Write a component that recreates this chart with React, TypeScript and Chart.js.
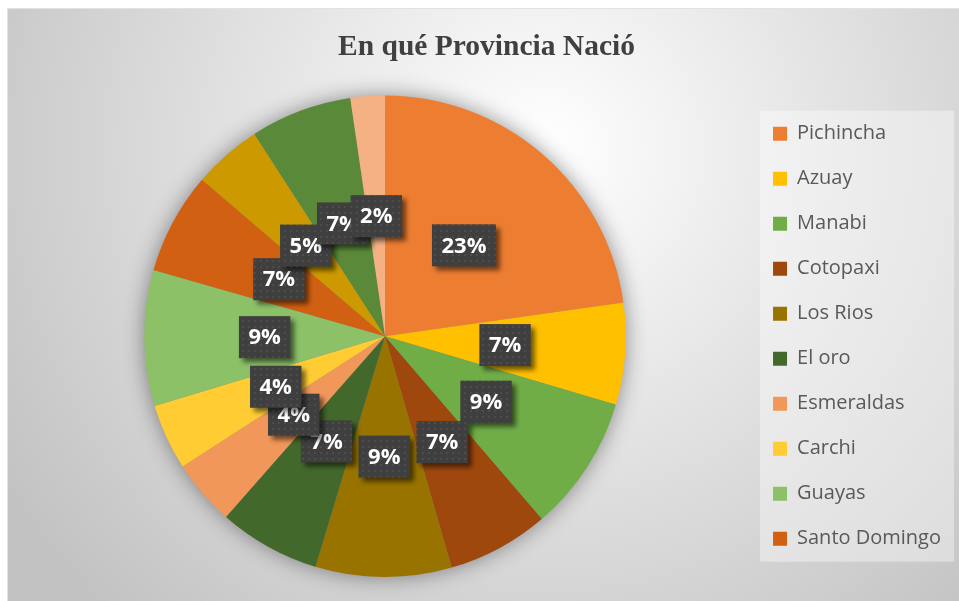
import React, { useEffect, useRef } from "react";
import { Chart, registerables } from "chart.js";

Chart.register(...registerables);

// ---- Data ----
const chartTitle = "En qué Provincia Nació";
const provinces = [
  "Pichincha",
  "Azuay",
  "Manabi",
  "Cotopaxi",
  "Los Rios",
  "El oro",
  "Esmeraldas",
  "Carchi",
  "Guayas",
  "Santo Domingo",
  "Tungurahua",
  "Loja",
  "Imbabura",
];
const shares = [22.7, 6.8, 9.1, 6.8, 9.1, 6.8, 4.4, 4.4, 9.1, 6.8, 4.6, 6.8, 2.3];
const sliceColors = [
  "#ED7D31",
  "#FFC000",
  "#70AD47",
  "#9E480E",
  "#997300",
  "#43682B",
  "#F1975A",
  "#FFCD33",
  "#8CC168",
  "#D26012",
  "#CC9A00",
  "#5A8A39",
  "#F4B183",
];
const legendVisibleCount = 10;

function makePattern(ctx: CanvasRenderingContext2D): CanvasPattern | string {
  const c = document.createElement("canvas");
  c.width = 6;
  c.height = 6;
  const p = c.getContext("2d");
  if (!p) return "#404040";
  p.fillStyle = "#3f3f3f";
  p.fillRect(0, 0, 6, 6);
  p.fillStyle = "#4c4c4c";
  p.fillRect(2, 2, 2, 2);
  return ctx.createPattern(c, "repeat") || "#404040";
}

const framePlugin = {
  id: "excelFrame",
  beforeDraw(chart: any) {
    const { ctx, width, height } = chart;
    ctx.save();
    ctx.fillStyle = "#ffffff";
    ctx.fillRect(0, 0, width, height);
    const g = ctx.createRadialGradient(545, 150, 0, 545, 150, 640);
    g.addColorStop(0, "#ffffff");
    g.addColorStop(1, "#c2c2c2");
    ctx.fillStyle = g;
    ctx.fillRect(7, 8, width - 7, height - 8);
    ctx.strokeStyle = "#e2e2e2";
    ctx.lineWidth = 1;
    ctx.beginPath();
    ctx.moveTo(7.5, height);
    ctx.lineTo(7.5, 8.5);
    ctx.lineTo(width, 8.5);
    ctx.stroke();
    const lg = chart.legend;
    if (lg && lg.legendHitBoxes && lg.legendHitBoxes.length) {
      const hb = lg.legendHitBoxes;
      const first = hb[0];
      const last = hb[hb.length - 1];
      const w = Math.max(...hb.map((h: any) => h.width));
      ctx.fillStyle = "rgba(255,255,255,0.38)";
      ctx.fillRect(first.left - 13, first.top - 13, w + 26, last.top + last.height - first.top + 26);
    }
    ctx.restore();
  },
  beforeDatasetsDraw(chart: any) {
    const meta = chart.getDatasetMeta(0);
    const arc = meta.data[0];
    if (!arc) return;
    const { x, y, outerRadius } = arc.getProps(["x", "y", "outerRadius"], true);
    const ctx = chart.ctx;
    ctx.save();
    ctx.shadowColor = "rgba(0,0,0,0.45)";
    ctx.shadowBlur = 22;
    ctx.fillStyle = "#888888";
    ctx.beginPath();
    ctx.arc(x, y, outerRadius - 1, 0, Math.PI * 2);
    ctx.fill();
    ctx.restore();
  },
  afterDatasetsDraw(chart: any) {
    const ctx = chart.ctx;
    const values = chart.data.datasets[0].data as number[];
    const total = values.reduce((a, b) => a + b, 0);
    const meta = chart.getDatasetMeta(0);
    const pattern = makePattern(ctx);
    ctx.save();
    ctx.font = "bold 22px 'Open Sans'";
    meta.data.forEach((arc: any, i: number) => {
      const p = arc.getCenterPoint(true);
      const txt = Math.round((values[i] / total) * 100) + "%";
      const tw = ctx.measureText(txt).width;
      const bw = tw + 19;
      const bh = 42;
      const bx = p.x - bw / 2;
      const by = p.y - bh / 2;
      ctx.save();
      ctx.shadowColor = "rgba(0,0,0,0.55)";
      ctx.shadowBlur = 5;
      ctx.shadowOffsetX = 4;
      ctx.shadowOffsetY = 4;
      ctx.fillStyle = pattern;
      ctx.fillRect(bx, by, bw, bh);
      ctx.restore();
      ctx.fillStyle = "#ffffff";
      ctx.textAlign = "center";
      ctx.textBaseline = "middle";
      ctx.fillText(txt, p.x, p.y + 1);
    });
    ctx.restore();
  },
};

export default function App() {
  const ref = useRef<HTMLCanvasElement | null>(null);

  useEffect(() => {
    if (!ref.current) return;
    const chart = new Chart(ref.current, {
      type: "pie",
      data: {
        labels: provinces,
        datasets: [
          {
            data: shares,
            backgroundColor: sliceColors,
            borderWidth: 0,
          },
        ],
      },
      options: {
        responsive: false,
        animation: false,
        layout: { padding: { top: 10, left: 22, right: 8, bottom: 24 } },
        plugins: {
          title: {
            display: true,
            text: chartTitle,
            color: "#404040",
            font: { family: "'Liberation Serif', 'Times New Roman', serif", size: 29.5, weight: "bold" },
            padding: { top: 19.6, bottom: 30.4 },
          },
          legend: {
            position: "right",
            fullSize: false,
            align: "center",
            labels: {
              boxWidth: 14,
              boxHeight: 14,
              padding: 25,
              color: "#595959",
              font: { family: "'Open Sans'", size: 20 },
              filter: (item: any) => item.index < legendVisibleCount,
            },
          },
          tooltip: { enabled: false },
        },
      },
      plugins: [framePlugin],
    });
    return () => chart.destroy();
  }, []);

  return (
    <div style={{ position: "absolute", left: 0, top: 0, width: 959, height: 601 }}>
      <canvas ref={ref} width={959} height={601} style={{ display: "block" }} />
    </div>
  );
}
